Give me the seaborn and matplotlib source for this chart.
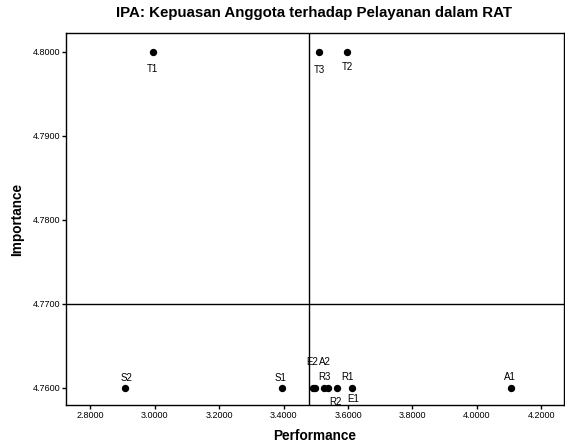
import matplotlib
matplotlib.use("Agg")
import matplotlib.pyplot as plt
import matplotlib.ticker as mticker
import seaborn as sns
import pandas as pd

# data
labels = ['T1', 'T3', 'T2', 'S2', 'S1', 'E2', 'A2', 'R3', 'R2', 'R1', 'E1', 'A1']
performance = [2.994, 3.511, 3.598, 2.907, 3.394, 3.490, 3.499, 3.527, 3.539, 3.567, 3.611, 4.106]
importance = [4.80, 4.80, 4.80, 4.76, 4.76, 4.76, 4.76, 4.76, 4.76, 4.76, 4.76, 4.76]

# label offsets in points (dx, dy)
offsets = {'T1': (0, -12), 'T3': (0, -13), 'T2': (0, -11), 'S2': (1, 7), 'S1': (-1, 7),
           'E2': (0, 19), 'A2': (7, 19), 'R3': (0, 8), 'R1': (7, 8), 'R2': (5, -10),
           'E1': (1, -8), 'A1': (-1, 8), }

df = pd.DataFrame({'label': labels, 'Performance': performance, 'Importance': importance})

sns.set_style("white")
plt.rcParams['font.family'] = ['Liberation Sans', 'DejaVu Sans']
plt.rcParams['text.color'] = 'black'
plt.rcParams['axes.labelcolor'] = 'black'
plt.rcParams['xtick.color'] = 'black'
plt.rcParams['ytick.color'] = 'black'

fig = plt.figure(figsize=(5.65, 4.45), dpi=100)
ax = fig.add_axes([0.117, 0.09, 0.881, 0.836])

sns.scatterplot(data=df, x='Performance', y='Importance', ax=ax, color='black',
                s=28, edgecolor='black', linewidth=0)

for lab, xv, yv in zip(labels, performance, importance):
    dx, dy = offsets[lab]
    ax.annotate(lab, (xv, yv), xytext=(dx, dy), textcoords='offset points',
                ha='center', va='center', fontsize=7)

# reference lines at the means
ax.axvline(df['Performance'].mean(), color='black', linewidth=1)
ax.axhline(df['Importance'].mean(), color='black', linewidth=1)

ax.set_xlim(2.725, 4.27)
ax.set_ylim(4.75798, 4.80226)
ax.xaxis.set_major_locator(mticker.MultipleLocator(0.2))
ax.yaxis.set_major_locator(mticker.MultipleLocator(0.01))
ax.xaxis.set_major_formatter(mticker.FormatStrFormatter('%.4f'))
ax.yaxis.set_major_formatter(mticker.FormatStrFormatter('%.4f'))
ax.tick_params(axis='both', direction='out', length=3, width=1, labelsize=6.5, pad=1,
               bottom=True, left=True)

for sp in ax.spines.values():
    sp.set_color('black')
    sp.set_linewidth(1)

ax.set_xlabel('Performance', fontsize=9.8, fontweight='bold', labelpad=7)
ax.set_ylabel('Importance', fontsize=9.8, fontweight='bold', labelpad=6)
fig.text(0.556, 0.971, 'IPA: Kepuasan Anggota terhadap Pelayanan dalam RAT', fontsize=10.8,
         fontweight='bold', ha='center', va='center')

fig.savefig('out.png', dpi=100)
